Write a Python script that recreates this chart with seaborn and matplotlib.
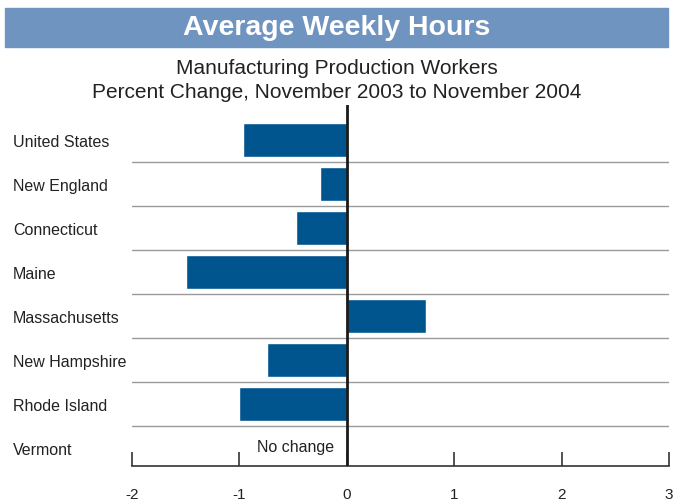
import matplotlib
matplotlib.use('Agg')
import matplotlib.pyplot as plt
import matplotlib.transforms as mtransforms
from matplotlib.patches import Rectangle
import seaborn as sns
import pandas as pd

# 데이터
regions = ['United States', 'New England', 'Connecticut', 'Maine',
           'Massachusetts', 'New Hampshire', 'Rhode Island', 'Vermont']
pct_change = [-0.97, -0.25, -0.47, -1.50, 0.74, -0.74, -1.00, 0.0]
x_ticks = [-2, -1, 0, 1, 2, 3]

df = pd.DataFrame({'region': regions, 'change': pct_change})

sns.set_style('white')
plt.rcParams['font.family'] = ['Liberation Sans', 'DejaVu Sans']

fig = plt.figure(figsize=(6.74, 5.04), dpi=100)
ax = fig.add_axes([132 / 674, 38 / 504, 537 / 674, 361 / 504])

sns.barplot(data=df, x='change', y='region', color='#00558f', saturation=1,
            width=0.77, orient='h', ax=ax)

ax.set_xlim(-2, 3)
ax.set_ylim(7.41, -0.8)

# 구분선
for i in range(len(regions) - 1):
    ax.axhline(i + 0.5, color='#9a9a9a', lw=1, zorder=0)
ax.axvline(0, color='#1a1a1a', lw=2, zorder=5)

for s in ['top', 'right', 'left']:
    ax.spines[s].set_visible(False)
ax.spines['bottom'].set_color('#333333')
ax.spines['bottom'].set_linewidth(1.2)

ax.set_xticks(x_ticks)
ax.set_xticklabels([str(t) for t in x_ticks], fontsize=11, color='#222222')
ax.tick_params(axis='x', bottom=True, direction='in', length=10, width=1.2,
               color='#333333', pad=16)
ax.set_yticks([])
ax.set_xlabel('')
ax.set_ylabel('')

# 지역 이름 (왼쪽 정렬)
trans = mtransforms.blended_transform_factory(fig.transFigure, ax.transData)
for i, name in enumerate(regions):
    ax.text(13 / 674, i + 0.05, name, transform=trans, ha='left', va='center',
            fontsize=11.5, color='#222222')

ax.text(-0.12, 7, 'No change', ha='right', va='center', fontsize=11.5, color='#222222')

# 제목 배너
fig.patches.append(Rectangle((5 / 674, 1 - 47 / 504), 663 / 674, 39 / 504,
                             transform=fig.transFigure, color='#7094c0', zorder=0))
fig.text(0.5, 1 - 28 / 504, 'Average Weekly Hours', ha='center', va='center',
         fontsize=20.5, fontweight='bold', color='white')
fig.text(0.5, 1 - 68 / 504, 'Manufacturing Production Workers', ha='center',
         va='center', fontsize=15, color='#222222')
fig.text(0.5, 1 - 92 / 504, 'Percent Change, November 2003 to November 2004',
         ha='center', va='center', fontsize=15, color='#222222')

fig.savefig('out.png', dpi=100)
